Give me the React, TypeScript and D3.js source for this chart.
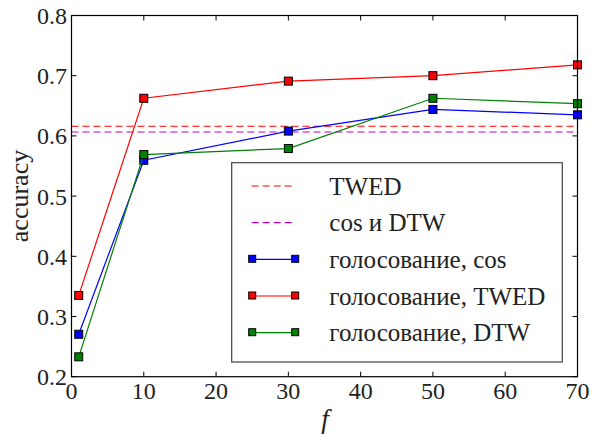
import React from "react";
import * as d3 from "d3";

const fValues = [1, 10, 30, 50, 70];
const votingCos = [0.2705, 0.5595, 0.608, 0.644, 0.635];
const votingTwed = [0.335, 0.6625, 0.691, 0.7, 0.718];
const votingDtw = [0.233, 0.569, 0.579, 0.6625, 0.6535];
const baselineTwed = 0.616;
const baselineCosDtw = 0.6065;
const xTicks = [0, 10, 20, 30, 40, 50, 60, 70];
const yTicks = [0.2, 0.3, 0.4, 0.5, 0.6, 0.7, 0.8];

const W = 590;
const H = 437;
const M = { left: 71.5, right: 577.5, top: 15.5, bottom: 376.7 };
const FONT = "Liberation Serif";

export default function App() {
  const x = d3.scaleLinear().domain([0, 70]).range([M.left, M.right]);
  const y = d3.scaleLinear().domain([0.2, 0.8]).range([M.bottom, M.top]);

  const line = d3
    .line<number>()
    .x((_, i) => x(fValues[i]))
    .y((d) => y(d));

  const series = [
    { data: votingCos, color: "#0000ff", label: "голосование, cos" },
    { data: votingTwed, color: "#ff0000", label: "голосование, TWED" },
    { data: votingDtw, color: "#008000", label: "голосование, DTW" },
  ];
  const dashes = [
    { v: baselineTwed, color: "#ff0000", label: "TWED" },
    { v: baselineCosDtw, color: "#bf00bf", label: "cos и DTW" },
  ];

  const ms = 8;
  const tickLen = 5;

  const legend = { x0: 231.7, y0: 162.7, x1: 562.3, y1: 362 };
  const rowY = [186, 222.7, 259.3, 296, 332.7];
  const hx0 = 251.7;
  const hx1 = 295.7;
  const tx = 329.3;

  const legendItems = [
    ...dashes.map((d) => ({ type: "dash", color: d.color, label: d.label })),
    ...series.map((s) => ({ type: "line", color: s.color, label: s.label })),
  ];

  const txt = { fontFamily: FONT, fill: "#222" } as React.CSSProperties;

  return (
    <svg width={W} height={H} style={{ position: "absolute", left: 0, top: 0, background: "#fff" }}>
      <rect x={0} y={0} width={W} height={H} fill="#fff" />
      {dashes.map((d) => (
        <line
          key={d.label}
          x1={x(0)}
          x2={x(70)}
          y1={y(d.v)}
          y2={y(d.v)}
          stroke={d.color}
          strokeWidth={1.2}
          strokeDasharray="7,4"
        />
      ))}
      {series.map((s) => (
        <g key={s.label}>
          <path d={line(s.data) || ""} fill="none" stroke={s.color} strokeWidth={1.2} />
          {s.data.map((v, i) => (
            <rect
              key={i}
              x={x(fValues[i]) - ms / 2}
              y={y(v) - ms / 2}
              width={ms}
              height={ms}
              fill={s.color}
              stroke="#000"
              strokeWidth={1}
            />
          ))}
        </g>
      ))}
      {xTicks.map((t) => (
        <g key={"x" + t}>
          <line x1={x(t)} x2={x(t)} y1={M.bottom} y2={M.bottom - tickLen} stroke="#000" strokeWidth={1} />
          <line x1={x(t)} x2={x(t)} y1={M.top} y2={M.top + tickLen} stroke="#000" strokeWidth={1} />
          <text x={x(t)} y={399} textAnchor="middle" style={{ ...txt, fontSize: 24 }}>
            {t}
          </text>
        </g>
      ))}
      {yTicks.map((t) => (
        <g key={"y" + t}>
          <line x1={M.left} x2={M.left + tickLen} y1={y(t)} y2={y(t)} stroke="#000" strokeWidth={1} />
          <line x1={M.right} x2={M.right - tickLen} y1={y(t)} y2={y(t)} stroke="#000" strokeWidth={1} />
          <text x={67} y={y(t) + 8.5} textAnchor="end" style={{ ...txt, fontSize: 24 }}>
            {t.toFixed(1)}
          </text>
        </g>
      ))}
      <rect
        x={M.left}
        y={M.top}
        width={M.right - M.left}
        height={M.bottom - M.top}
        fill="none"
        stroke="#000"
        strokeWidth={1.2}
      />
      <text x={325} y={428} textAnchor="middle" style={{ ...txt, fontSize: 27, fontStyle: "italic" }}>
        f
      </text>
      <text transform={`translate(28,196) rotate(-90)`} textAnchor="middle" style={{ ...txt, fontSize: 26 }}>
        accuracy
      </text>
      <rect
        x={legend.x0}
        y={legend.y0}
        width={legend.x1 - legend.x0}
        height={legend.y1 - legend.y0}
        fill="#fff"
        stroke="#444"
        strokeWidth={1.2}
      />
      {legendItems.map((it, i) => (
        <g key={it.label}>
          {it.type === "dash" ? (
            <line x1={hx0} x2={hx1} y1={rowY[i]} y2={rowY[i]} stroke={it.color} strokeWidth={1.2} strokeDasharray="7,4" />
          ) : (
            <g>
              <line x1={hx0} x2={hx1} y1={rowY[i]} y2={rowY[i]} stroke={it.color} strokeWidth={1.2} />
              <rect x={hx0 - ms / 2 + 1} y={rowY[i] - ms / 2} width={ms - 1} height={ms - 1} fill={it.color} stroke="#000" />
              <rect x={hx1 - ms / 2} y={rowY[i] - ms / 2} width={ms - 1} height={ms - 1} fill={it.color} stroke="#000" />
            </g>
          )}
          <text x={tx} y={rowY[i] + 8.5} style={{ ...txt, fontSize: 25 }}>
            {it.label}
          </text>
        </g>
      ))}
    </svg>
  );
}
